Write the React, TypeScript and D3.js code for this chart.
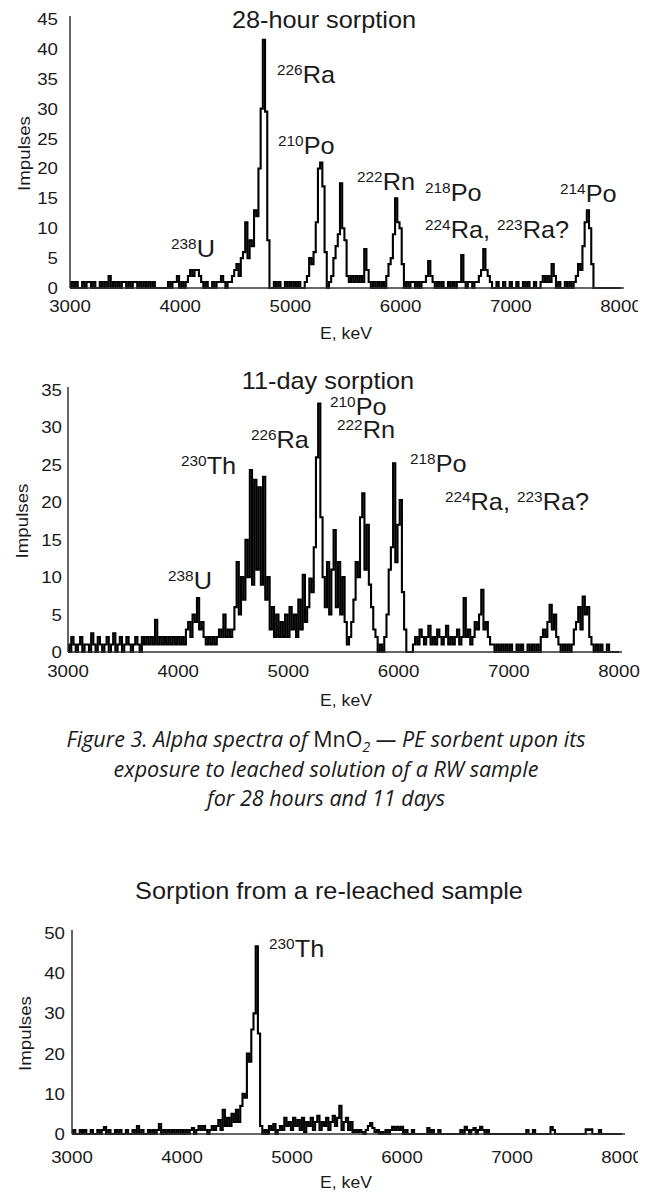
import * as d3 from 'd3'
import React from 'react'

const E_START = 3000
const E_END = 8000
const E_STEP = 20 // keV per channel

// counts per 20 keV channel, 3000..8000 keV
const hours28 = [
  0, 1, 0, 1, 0, 0, 1, 0, 1, 1, 0, 1, 0, 0, 1, 0, 1, 0, 2, 0, 1, 0, 1, 0, 1,
  1, 0, 1, 0, 1, 1, 0, 1, 0, 1, 0, 1, 0, 1, 0, 0, 0, 0, 0, 0, 1, 0, 1, 1, 2,
  0, 1, 0, 1, 2, 3, 2, 3, 3, 2, 1, 0, 1, 0, 0, 1, 0, 1, 1, 2, 1, 0, 1, 1, 2,
  3, 4, 2, 5, 6, 11, 5, 8, 7, 13, 12, 20, 30, 41.5, 29.5, 8, 0, 0, 1, 0, 1, 0, 0, 1, 0,
  1, 0, 1, 0, 1, 0, 0, 1, 2, 5, 4, 6, 11, 20, 21, 17, 6, 0, 1, 2, 5, 7, 9, 17.5, 10,
  8, 2, 1, 2, 1, 2, 1, 2, 1, 6.5, 3, 1, 0, 1, 0, 1, 0, 1, 0, 2, 4, 5, 9, 15, 11,
  10, 4, 0, 1, 0, 1, 1, 0, 1, 0, 1, 1, 2, 4.5, 2, 1, 0, 1, 0, 1, 0, 0, 1, 0, 1,
  0, 1, 1, 5.5, 1, 0, 1, 1, 0, 1, 1, 2, 3, 6.5, 3, 2, 1, 0, 0, 1, 0, 0, 1, 0, 0,
  1, 0, 0, 1, 0, 0, 1, 0, 1, 0, 0, 1, 0, 0, 1, 2, 1, 2, 1, 4, 2, 0, 1, 0, 0,
  1, 0, 1, 0, 1, 2, 4, 3, 7, 11, 13, 10, 4, 0, 0, 0, 0, 0, 0, 0, 0, 0, 0, 0, 0,
  0,
]

const days11 = [
  1, 0, 2, 1, 0, 1, 2, 0, 1, 1, 0, 2.5, 1, 0, 2, 1, 0, 1, 2, 0, 1, 2.5, 0, 1, 2,
  0, 1, 2, 1, 0, 1, 2, 1, 0, 2, 1, 2, 1, 2, 1, 4.3, 1, 2, 1, 2, 1, 2, 1, 2, 1,
  2, 1, 2, 1, 3, 4, 2, 5, 4, 7.2, 3, 4, 2, 1, 2, 1, 2, 1, 2, 3, 2, 5, 2, 3, 2,
  3, 6, 12, 5, 10, 7, 15, 10, 24.3, 9, 23, 11, 22, 9, 23.4, 7, 10, 3, 6, 2, 5, 2, 4, 2, 5,
  2, 6, 3, 5, 2, 7, 3, 10.3, 4, 6, 9.8, 8, 14, 26, 33.2, 18, 10, 6, 12, 5, 11, 16.3, 6, 12, 5,
  10, 4, 1, 2, 4, 7, 12, 10, 18, 21.2, 11, 17, 9, 6, 3, 2, 0, 1, 0, 2, 5, 11, 14, 25.2, 12,
  17, 20.3, 8, 3, 0, 0, 0, 1, 2, 1, 3, 2, 1, 2, 3.5, 1, 2, 1, 3, 2, 1, 2, 3.5, 1, 2,
  1, 2, 3, 1, 2, 7.2, 2, 3, 1, 2, 4, 3, 5, 8.3, 3, 4, 2, 1, 1, 0, 1, 0, 1, 0, 1,
  0, 1, 0, 0, 1, 0, 1, 0, 0, 1, 0, 1, 0, 1, 0, 2, 3, 2, 4, 6.3, 3, 5, 2, 1, 0,
  1, 0, 1, 0, 1, 3, 4, 6, 3, 7.4, 5, 6, 2, 1, 0, 1, 0, 1, 0, 0, 1, 0, 0, 0, 0,
  0,
]

const releached = [
  0, 1, 0, 0, 1, 0, 1, 0, 0, 1, 0, 0, 1, 0, 1, 1.7, 0, 1, 0, 0, 1, 0, 1, 0, 0,
  1, 0, 0, 1, 0, 2, 0, 1, 0, 0, 1, 0, 1, 0, 1, 2.5, 0, 1, 0, 1, 0, 1, 0, 1, 0,
  1, 0, 1, 0, 1, 1.5, 0, 1, 2, 1, 2, 1, 0, 1, 2, 1, 2, 3.5, 1, 6, 2, 4, 2, 5, 3,
  6, 3, 7, 10, 9, 20, 18, 26, 30, 46.7, 25, 2, 0, 1, 0, 2, 1, 2.5, 0, 1, 2, 1, 4, 2, 3,
  1, 4, 2, 3.5, 1, 4, 0.5, 3, 2, 4, 1, 3, 4.5, 1, 3, 2, 4, 1, 3, 4.5, 2, 4, 7, 1, 3,
  4, 1, 3, 0.5, 1, 0.5, 1, 0.5, 0, 1, 2, 2.7, 1.5, 0.5, 1, 0, 0.5, 0, 1, 0, 1, 1.8, 1, 1.8, 1,
  1.8, 0, 1, 0, 0, 1, 0, 0, 0, 0, 0, 0, 1.5, 0, 1, 0, 0, 1, 0, 0, 0, 0, 0, 0, 0,
  0, 0, 1, 0, 1.8, 1, 0, 1, 1.5, 0, 1, 1.8, 1, 0, 1, 0, 0, 0, 0, 0, 0, 0, 0, 0, 0,
  0, 0, 0, 0, 0, 0, 0, 1, 0, 0, 1, 0, 0, 0, 0, 0, 0, 0, 1.7, 1, 0, 0, 0, 0, 0,
  0, 0, 0, 0, 0, 0, 0, 0, 0, 1.2, 1, 1.2, 0, 0, 0, 1, 0, 0, 0, 0, 0, 0, 0, 0, 0,
  0,
]

const xTicks = [3000, 4000, 5000, 6000, 7000, 8000]
const yTicks28h = [0, 5, 10, 15, 20, 25, 30, 35, 40, 45]
const yTicks11d = [0, 5, 10, 15, 20, 25, 30, 35]
const yTicksRe = [0, 10, 20, 30, 40, 50]

// isotope labels: [mass, symbol] pairs, anchored at (keV, impulses)
const labels28h = [
  { parts: [['226', 'Ra']], e: 4878, v: 34.3 },
  { parts: [['210', 'Po']], e: 4887, v: 22.4 },
  { parts: [['222', 'Rn']], e: 5604, v: 16.4 },
  { parts: [['218', 'Po']], e: 6221, v: 14.6 },
  { parts: [['224', 'Ra, '], ['223', 'Ra?']], e: 6221, v: 8.4 },
  { parts: [['214', 'Po']], e: 7446, v: 14.4 },
  { parts: [['238', 'U']], e: 3916, v: 5.2 },
]
const labels11d = [
  { parts: [['230', 'Th']], e: 4025, v: 23.8 },
  { parts: [['226', 'Ra']], e: 4660, v: 27.3 },
  { parts: [['210', 'Po']], e: 5377, v: 31.7 },
  { parts: [['222', 'Rn']], e: 5441, v: 28.6 },
  { parts: [['218', 'Po']], e: 6103, v: 24.0 },
  { parts: [['224', 'Ra, '], ['223', 'Ra?']], e: 6420, v: 19.0 },
  { parts: [['238', 'U']], e: 3907, v: 8.4 },
]
const labelsRe = [{ parts: [['230', 'Th']], e: 4791, v: 44.0 }]

const FONT = '"Liberation Sans", Arial, sans-serif'
const CAPTION_FONT = '"Open Sans", "Noto Sans", sans-serif'
const INK = '#1a1a1a'
const SX = 1.1 // the source figure is a little wider than Arial

const Txt = ({ x, y, size, anchor = 'start', rotate = 0, children }) => (
  <text
    transform={`translate(${x},${y}) rotate(${rotate}) scale(${SX},1)`}
    fontSize={size}
    textAnchor={anchor}
    fontFamily={FONT}
    fill={INK}
  >
    {children}
  </text>
)

const Panel = ({ data, yMax, yTicks, xRange, yRange, labels, title, titleX, titleY, tickRight, xLabelY, eLabelY, yLabelX, clipId }) => {
  const x = d3.scaleLinear().domain([E_START, E_END]).range(xRange)
  const y = d3.scaleLinear().domain([0, yMax]).range(yRange)
  const line = d3
    .line<number>()
    .x((d, i) => x(E_START + i * E_STEP))
    .y(d => y(d))
    .curve(d3.curveStep)
  const axisLeft = xRange[0]
  const axisRight = xRange[1] + 3
  const top = yRange[1] - 3

  return (
    <g clipPath={clipId ? `url(#${clipId})` : undefined}>
      <Txt x={titleX} y={titleY} size={23} anchor="middle">
        {title}
      </Txt>
      <path d={line(data)} fill="none" stroke="#000" strokeWidth={2.1} strokeLinejoin="miter" />
      <line x1={axisLeft} x2={axisLeft} y1={top} y2={yRange[0]} stroke="#333" strokeWidth={1.5} />
      <line x1={axisLeft} x2={axisRight} y1={yRange[0]} y2={yRange[0]} stroke="#333" strokeWidth={1.5} />
      {yTicks.map(t => (
        <Txt key={t} x={tickRight} y={y(t) + 6} size={17} anchor="end">
          {t}
        </Txt>
      ))}
      {xTicks.map(t => (
        <Txt key={t} x={x(t)} y={xLabelY} size={17} anchor="middle">
          {t}
        </Txt>
      ))}
      <Txt x={346} y={eLabelY} size={16} anchor="middle">
        E, keV
      </Txt>
      <Txt x={yLabelX} y={(yRange[0] + yRange[1]) / 2} size={17} anchor="middle" rotate={-90}>
        Impulses
      </Txt>
      {labels.map((l, i) => (
        <text
          key={i}
          transform={`translate(${x(l.e)},${y(l.v)}) scale(${SX},1)`}
          fontSize={23}
          fontFamily={FONT}
          fill={INK}
        >
          {l.parts.map(([mass, sym], j) => (
            <React.Fragment key={j}>
              <tspan fontSize={14} dy={-8}>
                {mass}
              </tspan>
              <tspan dy={8}>{sym}</tspan>
            </React.Fragment>
          ))}
        </text>
      ))}
    </g>
  )
}

export default function App() {
  return (
    <svg
      width={648}
      height={1194}
      viewBox="0 0 648 1194"
      style={{ position: 'absolute', left: 0, top: 0, background: '#fff' }}
    >
      <defs>
        <clipPath id="cut">
          <rect x={0} y={0} width={638} height={1194} />
        </clipPath>
      </defs>
      <rect width={648} height={1194} fill="#fff" />
      <Panel
        data={hours28}
        yMax={45}
        yTicks={yTicks28h}
        xRange={[70, 621]}
        yRange={[288, 19]}
        labels={labels28h}
        title="28-hour sorption"
        titleX={324}
        titleY={28}
        tickRight={58}
        xLabelY={312}
        eLabelY={339}
        yLabelX={30}
        clipId="cut"
      />
      <Panel
        data={days11}
        yMax={35}
        yTicks={yTicks11d}
        xRange={[68, 619]}
        yRange={[652, 390]}
        labels={labels11d}
        title="11-day sorption"
        titleX={328}
        titleY={389}
        tickRight={62}
        xLabelY={677}
        eLabelY={706}
        yLabelX={28}
      />
      <g fontSize={21.5} fontStyle="italic" fontFamily={CAPTION_FONT} fill={INK} textAnchor="middle">
        <text x={326} y={747}>
          Figure 3. Alpha spectra of <tspan fontStyle="normal">MnO</tspan>
          <tspan fontSize={14} dy={5}>2</tspan>
          <tspan dy={-5}> — PE sorbent upon its</tspan>
        </text>
        <text x={326} y={777}>exposure to leached solution of a RW sample</text>
        <text x={326} y={806}>for 28 hours and 11 days</text>
      </g>
      <Panel
        data={releached}
        yMax={50}
        yTicks={yTicksRe}
        xRange={[72, 622]}
        yRange={[1134, 933]}
        labels={labelsRe}
        title="Sorption from a re-leached sample"
        titleX={329}
        titleY={899}
        tickRight={65}
        xLabelY={1163}
        eLabelY={1188}
        yLabelX={31}
        clipId="cut"
      />
    </svg>
  )
}
